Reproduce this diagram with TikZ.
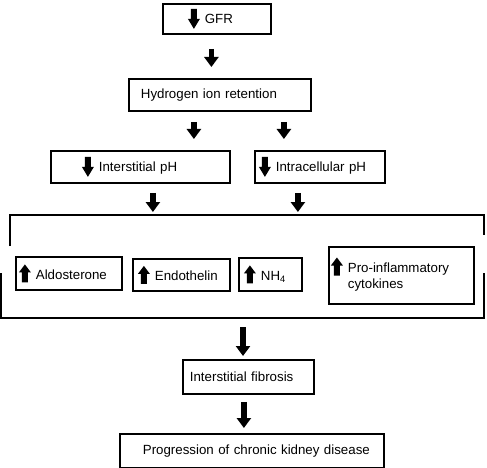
\documentclass[tikz,border=0pt]{standalone}
\usepackage{fontspec}
\setmainfont{Liberation Sans}
\usetikzlibrary{arrows.meta}
\setlength{\parindent}{0pt}
\newcommand{\downmark}{\tikz[x=1pt,y=1pt,baseline=0pt]\fill (-3,15) -- (3,15) -- (3,5) -- (6,5) -- (0,-5) -- (-6,5) -- (-3,5) -- cycle;\hspace{5pt}}
\newcommand{\upmark}{\tikz[x=1pt,y=1pt,baseline=0pt]\fill (-3,-3) -- (3,-3) -- (3,7) -- (6,7) -- (0,15) -- (-6,7) -- (-3,7) -- cycle;\hspace{5pt}}

\begin{document}
\begin{tikzpicture}[x=1pt, y=-1pt, font=\fontsize{13.3}{16}\selectfont,
  box/.style={draw, line width=1.8pt, anchor=north west, inner xsep=0pt, align=left},
  flow/.style={line width=5.5pt, -{Triangle[length=10pt,width=14pt]}}]
\useasboundingbox (0,0) rectangle (487,468);
\node [box, text width=108pt, minimum height=30pt] (gfr) at (162,3) {\hspace*{25pt}\downmark GFR};
\node [box, text width=182pt, minimum height=32pt] (hydrogen) at (128,78) {\hspace*{12pt}Hydrogen ion retention};
\node [box, text width=179pt, minimum height=32pt] (interph) at (50,150) {\hspace*{31pt}\downmark Interstitial pH};
\node [box, text width=130pt, minimum height=32pt] (intraph) at (254,150) {\hspace*{4pt}\downmark Intracellular pH};

\draw [line width=1.8pt] (10,246) -- (10,215) -- (484,215) -- (484,235);
\draw [line width=1.8pt] (1,273) -- (1,318) -- (484,318) -- (484,273);
\coordinate (grptop) at (0,215);
\coordinate (grpbot) at (243,318);

\node [box, text width=106pt, minimum height=33pt] (aldo) at (15,256) {\hspace*{3pt}\upmark Aldosterone};
\node [box, text width=97pt, minimum height=32pt] (endo) at (132,258) {\hspace*{5pt}\upmark Endothelin};
\node [box, text width=63pt, minimum height=33pt] (ammonia) at (238,257) {\hspace*{5pt}\upmark NH\textsubscript{4}};
\node [box, text width=145pt, minimum height=57pt] (cytokines) at (328,246) {\hspace*{2pt}\upmark\begin{tabular}[t]{@{}l@{}}Pro-inflammatory\\ cytokines\end{tabular}};

\node [box, text width=131pt, minimum height=34pt] (fibrosis) at (182,359) {\hspace*{7pt}Interstitial fibrosis};
\node [box, text width=264pt, minimum height=34pt] (ckd) at (119,433) {\hspace*{23pt}Progression of chronic kidney disease};

\draw [flow, shorten <=14pt, shorten >=11pt] ([xshift=-5.5pt]gfr.south) -- ([xshift=-5.5pt]gfr.south |- hydrogen.north);
\draw [flow, shorten <=10pt, shorten >=11pt] ([xshift=-26pt]hydrogen.south) -- ([xshift=-26pt]hydrogen.south |- interph.north);
\draw [flow, shorten <=10pt, shorten >=11pt] ([xshift=64pt]hydrogen.south) -- ([xshift=64pt]hydrogen.south |- intraph.north);
\draw [flow, shorten <=9pt, shorten >=3pt] ([xshift=12.5pt]interph.south) -- ([xshift=12.5pt]interph.south |- grptop);
\draw [flow, shorten <=9pt, shorten >=3pt] ([xshift=-22pt]intraph.south) -- ([xshift=-22pt]intraph.south |- grptop);
\draw [flow, shorten <=9pt, shorten >=3pt] (grpbot) -- (grpbot |- fibrosis.north);
\draw [flow, shorten <=7pt, shorten >=5pt] ([xshift=-4.5pt]fibrosis.south) -- ([xshift=-4.5pt]fibrosis.south |- ckd.north);

\end{tikzpicture}
\end{document}
